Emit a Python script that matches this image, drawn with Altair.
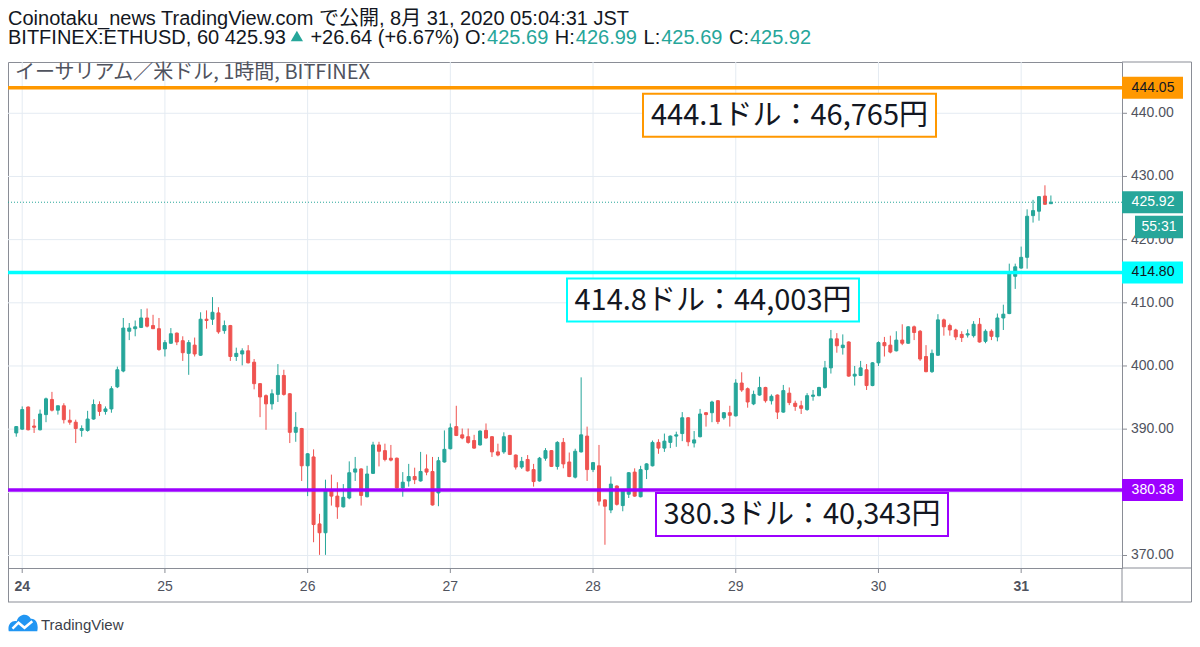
import altair as alt
import pandas as pd

# ---------------- data ----------------
# ETH/USD 1h candles, Bitfinex, first candle = 2020-08-23 23:00 (JST clock)
opens = [389.4, 390.0, 393.5, 390.5, 389.9, 392.3, 394.7, 393.0, 393.7, 391.4,
         391.1, 389.8, 389.8, 391.6, 393.9, 392.8, 393.2, 396.7, 399.2, 405.5,
         405.9, 406.1, 407.6, 406.4, 405.9, 402.7, 403.6, 405.2, 404.0, 402.0,
         403.3, 401.7, 407.4, 407.4, 408.4, 405.6, 406.4, 401.5, 401.9, 402.4,
         400.6, 397.2, 395.3, 394.0, 395.5, 398.5, 395.6, 389.5, 390.1, 384.2,
         385.6, 375.0, 373.6, 380.3, 379.4, 377.7, 379.1, 383.2, 383.7, 379.3,
         383.0, 387.5, 386.6, 385.4, 385.4, 380.7, 381.8, 382.5, 381.8, 383.7,
         383.3, 379.9, 384.8, 386.9, 390.4, 389.1, 388.8, 388.2, 387.5, 389.8,
         388.8, 386.4, 386.4, 389.0, 385.9, 384.0, 385.2, 383.6, 381.8, 385.4,
         386.6, 384.1, 387.9, 384.8, 382.4, 386.4, 388.9, 383.6, 384.2, 378.8,
         377.2, 381.0, 377.9, 379.7, 383.2, 379.3, 383.6, 384.2, 387.9, 387.0,
         387.9, 388.9, 389.3, 391.8, 387.8, 388.8, 392.6, 392.6, 394.5, 391.8,
         392.6, 392.1, 397.3, 396.4, 394.0, 395.4, 396.6, 394.5, 395.4, 392.7,
         395.7, 394.1, 393.7, 393.1, 395.2, 395.3, 396.6, 399.7, 404.3, 402.9,
         403.8, 398.4, 398.5, 399.4, 396.9, 400.5, 403.7, 403.3, 402.4, 404.1,
         403.6, 406.2, 405.5, 401.5, 399.1, 401.7, 407.3, 406.4, 405.7, 405.0,
         404.9, 404.8, 406.6, 403.9, 405.5, 404.6, 407.6, 408.3, 414.2, 415.5,
         417.2, 423.8, 424.5, 426.9, 425.69]
highs = [390.5, 393.6, 393.6, 391.6, 393.1, 395.0, 395.9, 393.7, 394.1, 393.1,
         391.5, 390.6, 392.9, 394.7, 394.4, 393.6, 396.8, 399.9, 407.6, 406.8,
         407.2, 409.0, 409.1, 408.1, 407.6, 404.1, 406.0, 405.3, 404.7, 404.1,
         404.5, 408.5, 408.8, 410.9, 409.3, 407.2, 406.5, 402.9, 402.8, 403.3,
         401.1, 397.3, 395.5, 396.3, 400.3, 399.4, 395.7, 392.7, 390.2, 386.2,
         386.8, 376.6, 382.0, 382.8, 381.6, 381.3, 384.9, 385.6, 383.8, 384.2,
         388.0, 388.0, 387.7, 387.5, 385.5, 383.2, 384.5, 383.9, 386.4, 386.0,
         385.6, 385.6, 389.8, 390.9, 393.7, 390.1, 390.1, 389.1, 389.8, 390.9,
         388.9, 387.7, 389.5, 389.1, 386.0, 385.6, 385.9, 384.5, 385.6, 387.0,
         386.7, 388.1, 388.6, 386.3, 386.9, 398.2, 390.4, 384.8, 387.5, 378.9,
         382.5, 381.1, 380.5, 383.2, 383.8, 384.2, 384.6, 388.2, 388.4, 389.3,
         389.0, 389.6, 392.7, 391.9, 389.7, 393.2, 392.7, 394.5, 394.6, 392.7,
         393.7, 397.9, 399.0, 396.6, 396.1, 398.3, 396.7, 395.5, 395.5, 397.0,
         396.6, 394.5, 394.5, 395.7, 396.2, 396.7, 400.8, 405.7, 405.2, 405.0,
         403.9, 400.0, 400.8, 400.3, 400.6, 403.9, 404.6, 404.8, 405.5, 406.6,
         406.3, 406.4, 405.7, 403.3, 402.6, 408.2, 407.5, 406.7, 405.9, 405.5,
         405.8, 407.1, 407.6, 405.8, 405.8, 408.3, 409.7, 416.2, 416.2, 418.9,
         424.8, 426.3, 426.9, 428.6, 426.99]
lows = [388.8, 389.9, 389.8, 389.4, 389.8, 391.1, 392.8, 392.3, 390.9, 390.7,
        387.8, 388.8, 389.6, 391.5, 392.1, 392.3, 392.6, 396.5, 399.0, 404.1,
        404.7, 406.0, 406.1, 405.9, 402.4, 401.5, 403.5, 403.3, 400.8, 398.6,
        401.5, 401.6, 405.9, 406.5, 405.1, 405.1, 400.8, 400.8, 400.1, 400.4,
        396.3, 391.9, 389.9, 393.1, 394.3, 395.3, 387.8, 388.0, 381.8, 379.4,
        372.1, 370.1, 370.1, 377.9, 375.8, 377.6, 378.9, 381.8, 377.9, 379.2,
        382.9, 384.1, 384.9, 384.9, 380.6, 379.3, 380.9, 381.3, 381.7, 382.7,
        377.9, 377.8, 384.7, 386.8, 388.9, 388.4, 387.7, 386.9, 387.4, 388.5,
        385.6, 385.7, 386.1, 385.9, 383.6, 383.7, 383.3, 380.9, 381.7, 385.0,
        384.0, 383.6, 383.8, 382.4, 382.2, 386.3, 381.8, 383.2, 377.9, 371.7,
        376.7, 377.9, 377.0, 379.1, 379.3, 379.2, 382.1, 384.1, 386.1, 386.4,
        387.0, 387.2, 388.1, 387.3, 387.1, 388.7, 390.4, 391.1, 390.8, 391.5,
        390.4, 392.0, 395.9, 393.4, 393.8, 395.3, 394.2, 393.9, 391.6, 392.6,
        393.8, 392.9, 392.4, 392.9, 394.5, 395.2, 396.4, 398.8, 402.1, 401.8,
        398.3, 396.9, 398.4, 396.2, 396.8, 400.0, 401.5, 402.0, 402.3, 403.3,
        403.5, 404.1, 400.8, 399.0, 398.9, 401.6, 404.8, 404.8, 404.1, 403.8,
        404.5, 404.5, 403.7, 403.6, 404.1, 403.9, 405.7, 408.2, 412.2, 415.4,
        415.4, 422.7, 423.0, 425.5, 425.69]
closes = [390.4, 393.1, 389.9, 390.3, 392.4, 394.8, 393.0, 393.7, 391.5, 391.1,
          390.1, 390.1, 391.6, 393.9, 392.8, 393.2, 396.4, 399.4, 406.0, 406.0,
          406.2, 407.6, 406.3, 405.9, 402.6, 403.7, 405.1, 403.8, 402.1, 403.7,
          401.9, 407.4, 407.2, 408.5, 405.4, 406.4, 401.5, 402.0, 402.4, 400.5,
          397.2, 395.1, 394.0, 395.6, 398.5, 395.5, 389.5, 390.3, 384.2, 386.1,
          374.9, 373.6, 380.3, 379.4, 377.7, 379.2, 383.1, 383.7, 379.5, 382.9,
          387.5, 386.5, 385.2, 385.1, 380.7, 381.6, 382.5, 382.0, 383.3, 383.2,
          378.0, 385.0, 386.8, 390.2, 389.0, 388.6, 387.9, 387.0, 389.7, 388.6,
          386.4, 385.9, 388.8, 386.0, 384.0, 384.9, 383.4, 381.7, 385.4, 386.6,
          384.1, 387.9, 384.5, 382.5, 386.5, 389.1, 383.6, 384.7, 378.6, 377.8,
          381.3, 378.1, 380.4, 383.1, 379.4, 383.6, 384.5, 387.9, 387.0, 388.1,
          388.9, 389.1, 391.8, 388.0, 388.3, 392.4, 392.3, 394.3, 391.2, 392.6,
          392.2, 397.3, 396.2, 394.3, 395.5, 396.6, 394.5, 395.2, 392.7, 396.1,
          394.2, 393.6, 393.3, 395.3, 395.4, 396.6, 399.7, 404.3, 403.2, 403.3,
          398.4, 398.7, 399.7, 396.9, 400.5, 403.7, 403.2, 402.2, 404.1, 403.6,
          406.2, 405.3, 401.1, 399.1, 402.0, 407.3, 406.2, 405.7, 404.6, 404.5,
          405.1, 406.6, 403.8, 405.5, 404.7, 407.6, 408.2, 414.6, 415.7, 417.2,
          423.7, 424.6, 426.8, 425.6, 425.92]

first_candle = "2020-08-23 23:00"
day_ticks = [24, 25, 26, 27, 28, 29, 30, 31]
bold_days = [24, 31]
price_ticks = [370, 380, 390, 400, 410, 420, 430, 440]

# horizontal levels and their notes
level_prices = [444.05, 414.80, 380.38]
level_usd = ["444.1", "414.8", "380.3"]
level_jpy = ["46,765", "44,003", "40,343"]
last_price = 425.92
countdown = "55:31"

# header texts
publisher = "Coinotaku_news TradingView.com で公開, 8月 31, 2020 05:04:31 JST"
instrument = "BITFINEX:ETHUSD, 60 425.93"
change_txt = "+26.64 (+6.67%)"
ohlc_now = [("O:", "425.69"), ("H:", "426.99"), ("L:", "425.69"), ("C:", "425.92")]
legend_txt = "イーサリアム／米ドル, 1時間, BITFINEX"

# ---------------- styles / layout ----------------
UP = "#26a69a"
DOWN = "#ef5350"
LEVEL_COLORS = ["#ff9800", "#00ffff", "#9c00ff"]
LEVEL_TEXT = ["#131722", "#131722", "#ffffff"]
DARK = "#131722"
AXIS_TXT = "#50535e"
FRAME = "#8a8d96"
GRID = "#e4ebf2"
LATIN = "Liberation Sans, Noto Sans CJK JP"
JP = "Noto Sans CJK JP"

W, H = 1114, 506
RIGHT_PAD = 70
box_left = [635, 559, 648]
box_right = [928, 851, 940]
box_gap = [6, 6, 3]
box_h = 43

times = (pd.date_range(first_candle, periods=len(opens), freq="h")
         .strftime("%Y-%m-%dT%H:%M:%SZ").tolist())
df = pd.DataFrame({"t": times, "open": opens, "high": highs,
                   "low": lows, "close": closes})

x_scale = alt.Scale(type="utc", domain=[
    alt.DateTime(year=2020, month=8, date=23, hours=22, minutes=27, utc=True),
    alt.DateTime(year=2020, month=8, date=31, hours=16, minutes=7, utc=True)])
y_scale = alt.Scale(domain=[368.02, 448.12], zero=False, nice=False)


def XT(field="t"):
    return alt.X(f"{field}:T", scale=x_scale, axis=None, title=None)


def YQ(field):
    return alt.Y(f"{field}:Q", scale=y_scale, axis=None, title=None)


layers = []
one = pd.DataFrame({"k": [0]})

# ---- grid, ticks and tick labels (through the scales) ----
yt = pd.DataFrame({"v": price_ticks, "lab": [f"{v:.2f}" for v in price_ticks]})
xt = pd.DataFrame({
    "t": [f"2020-08-{d:02d}T00:00:00Z" for d in day_ticks],
    "lab": [str(d) for d in day_ticks],
    "bold": [d in bold_days for d in day_ticks]})

layers.append(alt.Chart(yt).mark_rule(color=GRID, strokeWidth=1).encode(y=YQ("v")))
layers.append(alt.Chart(xt).mark_rule(color=GRID, strokeWidth=1).encode(x=XT()))
layers.append(alt.Chart(yt).mark_rule(color=FRAME, strokeWidth=1).encode(
    x=alt.value(W), x2=alt.value(W + 5), y=YQ("v")))
layers.append(alt.Chart(yt).mark_text(font="Liberation Sans", fontSize=14, color=AXIS_TXT,
                                      align="left", baseline="middle").encode(
    x=alt.value(W + 9), y=YQ("v"), text="lab:N"))
layers.append(alt.Chart(xt).mark_rule(color=FRAME, strokeWidth=1).encode(
    x=XT(), y=alt.value(H), y2=alt.value(H + 5)))
for flag, weight in [(True, "bold"), (False, "normal")]:
    layers.append(alt.Chart(xt).transform_filter(
        f"datum.bold == {'true' if flag else 'false'}").mark_text(
        font="Liberation Sans", fontSize=14, color=AXIS_TXT, fontWeight=weight,
        align="center", baseline="middle").encode(
        x=XT(), y=alt.value(H + 19), text="lab:N"))

# ---- candles ----
base = alt.Chart(df)
up_f = "datum.close >= datum.open"
dn_f = "datum.close < datum.open"
for filt, col in [(up_f, UP), (dn_f, DOWN)]:
    layers.append(base.transform_filter(filt).mark_rule(strokeWidth=1, color=col).encode(
        x=XT(), y=YQ("low"), y2="high:Q"))
for filt, col in [(up_f, UP), (dn_f, DOWN)]:
    layers.append(base.transform_filter(filt).mark_bar(
        size=3, color=col, stroke=col, strokeWidth=1).encode(
        x=XT(), y=YQ("open"), y2="close:Q"))

# last price dotted line
lp_df = pd.DataFrame({"price": [last_price]})
layers.append(alt.Chart(lp_df).mark_rule(strokeDash=[1, 2], strokeWidth=1, color=UP).encode(
    y=YQ("price")))

# level lines, note boxes and right-hand price tags
for i, p in enumerate(level_prices):
    d = pd.DataFrame({"price": [p], "note": [f"{level_usd[i]}ドル：{level_jpy[i]}円"],
                      "tag": [f"{p:.2f}"]})
    c = alt.Chart(d)
    yenc = YQ("price")
    layers.append(c.mark_rule(strokeWidth=3.5, color=LEVEL_COLORS[i]).encode(y=yenc))
    layers.append(c.mark_rect(fill="white", stroke=LEVEL_COLORS[i], strokeWidth=2,
                              yOffset=box_gap[i], y2Offset=box_gap[i] + box_h).encode(
        x=alt.value(box_left[i]), x2=alt.value(box_right[i]), y=yenc, y2="price:Q"))
    layers.append(c.mark_text(font=JP, fontSize=29, color=DARK, align="center",
                              baseline="middle", yOffset=box_gap[i] + box_h / 2 + 1).encode(
        x=alt.value((box_left[i] + box_right[i]) / 2), y=yenc, text="note:N"))
    layers.append(c.mark_rect(fill=LEVEL_COLORS[i], yOffset=-11, y2Offset=11).encode(
        x=alt.value(W), x2=alt.value(W + 61), y=yenc, y2="price:Q"))
    layers.append(c.mark_text(font="Liberation Sans", fontSize=14, color=LEVEL_TEXT[i],
                              align="center", baseline="middle").encode(
        x=alt.value(W + 31), y=yenc, text="tag:N"))

lp_tag = pd.DataFrame({"price": [last_price], "tag": [f"{last_price:.2f}"], "cd": [countdown]})
c = alt.Chart(lp_tag)
yenc = YQ("price")
layers.append(c.mark_rect(fill=UP, yOffset=-11, y2Offset=11).encode(
    x=alt.value(W), x2=alt.value(W + 61), y=yenc, y2="price:Q"))
layers.append(c.mark_text(font="Liberation Sans", fontSize=14, color="white",
                          align="center", baseline="middle").encode(
    x=alt.value(W + 31), y=yenc, text="tag:N"))
layers.append(c.mark_rect(fill=UP, yOffset=13.5, y2Offset=36).encode(
    x=alt.value(W + 13), x2=alt.value(W + 61), y=yenc, y2="price:Q"))
layers.append(c.mark_text(font="Liberation Sans", fontSize=14, color="white",
                          align="center", baseline="middle", yOffset=25).encode(
    x=alt.value(W + 37), y=yenc, text="cd:N"))

# frame lines outside the plot area
R = W + RIGHT_PAD - 0.5
B = 540
for (x1, x2, y1, y2) in [(W, R, 0, 0), (W, R, H, H), (0, R, B, B),
                         (R, R, 0, B), (W, W, H, B), (0.5, 0.5, H, B)]:
    layers.append(alt.Chart(one).mark_rule(color=FRAME, strokeWidth=1).encode(
        x=alt.value(x1), x2=alt.value(x2), y=alt.value(y1), y2=alt.value(y2)))

# header line 1
layers.append(alt.Chart(pd.DataFrame({"s": [publisher]})).mark_text(
    font=LATIN, fontSize=20, color=DARK, align="left", baseline="middle").encode(
    x=alt.value(0), y=alt.value(-43), text="s:N"))

# header line 2 (mixed colours)
AW = {**{ch: 0.556 for ch in "0123456789"}, ".": 0.278, ",": 0.278, ":": 0.278,
      " ": 0.278, "(": 0.333, ")": 0.333, "%": 0.889, "+": 0.584, "B": 0.667,
      "I": 0.278, "T": 0.611, "F": 0.611, "N": 0.722, "E": 0.667, "X": 0.667,
      "H": 0.722, "U": 0.722, "S": 0.667, "D": 0.722, "O": 0.778, "L": 0.556,
      "C": 0.722}
FS2 = 20
segs = [(instrument, DARK), ("TRI", UP), (" " + change_txt + " " + ohlc_now[0][0], DARK),
        (ohlc_now[0][1], UP)]
for lab, val in ohlc_now[1:]:
    segs += [(" " + lab, DARK), (val, UP)]
cur = 0.0
for s, col in segs:
    if s == "TRI":
        layers.append(alt.Chart(one).mark_point(shape="triangle-up", filled=True,
                                                color=UP, size=150, opacity=1).encode(
            x=alt.value(cur + 10), y=alt.value(-26)))
        cur += 18
        continue
    lead = len(s) - len(s.lstrip(" "))
    cur += lead * AW[" "] * FS2
    s2 = s.strip()
    layers.append(alt.Chart(pd.DataFrame({"s": [s2]})).mark_text(
        font=LATIN, fontSize=FS2, color=col, align="left", baseline="middle").encode(
        x=alt.value(cur), y=alt.value(-24), text="s:N"))
    cur += sum(AW.get(ch, 0.556) for ch in s2) * FS2 + 1

# legend inside the plot
layers.append(alt.Chart(pd.DataFrame({"s": [legend_txt]})).mark_text(
    font=JP, fontSize=20, color=AXIS_TXT, align="left", baseline="middle").encode(
    x=alt.value(7), y=alt.value(11), text="s:N"))

# TradingView logo
cloud = "M-0.95,0.55 C-1.05,0.1 -0.75,-0.2 -0.42,-0.12 C-0.3,-0.6 0.3,-0.72 0.52,-0.28 C0.88,-0.32 1.05,0.1 0.95,0.55 Z"
zig = "M-0.7,0.38 L-0.3,-0.02 L0.1,0.32 L0.62,-0.12"
layers.append(alt.Chart(one).mark_point(shape=cloud, filled=True, color="#2196f3",
                                        size=900, opacity=1).encode(
    x=alt.value(15), y=alt.value(561)))
layers.append(alt.Chart(one).mark_point(shape=zig, filled=False, stroke="white",
                                        strokeWidth=2.5, size=900, opacity=1).encode(
    x=alt.value(15), y=alt.value(561)))
layers.append(alt.Chart(pd.DataFrame({"s": ["TradingView"]})).mark_text(
    font="Liberation Sans", fontSize=15, color="#3c3f4a", align="left",
    baseline="middle").encode(x=alt.value(33), y=alt.value(563), text="s:N"))

chart = alt.layer(*layers).properties(
    width=W, height=H,
    padding={"left": 0, "top": 54, "right": RIGHT_PAD, "bottom": 67},
    autosize=alt.AutoSizeParams(type="none"),
).configure_view(stroke=FRAME, strokeWidth=1)

chart.save("out.html", embed_options={"renderer": "svg", "actions": False})
